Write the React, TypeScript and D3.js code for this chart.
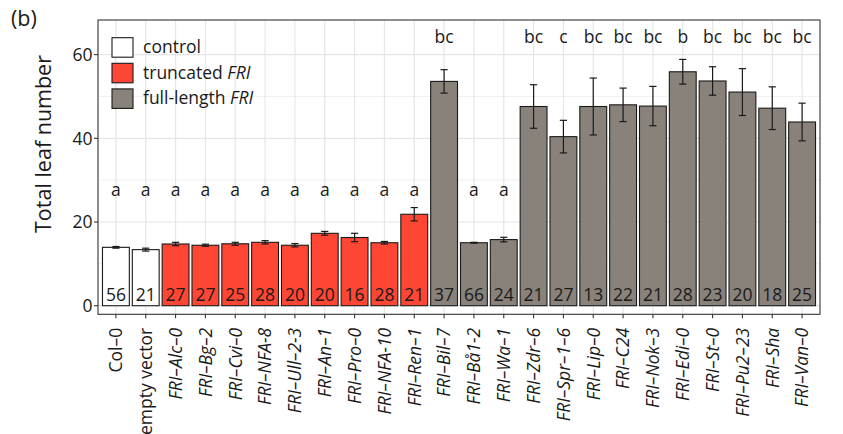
import React from "react";
import * as d3 from "d3";

// Genotypes along the x axis
const genotypes = [
  "Col–0", "empty vector", "FRI–Alc–0", "FRI–Bg–2", "FRI–Cvi–0", "FRI–NFA-8",
  "FRI–Ull–2-3", "FRI–An–1", "FRI–Pro–0", "FRI–NFA-10", "FRI–Ren–1", "FRI–Bil–7",
  "FRI–Bå1-2", "FRI–Wa–1", "FRI–Zdr–6", "FRI–Spr–1–6", "FRI–Lip–0", "FRI–C24",
  "FRI–Nok–3", "FRI–Edi–0", "FRI–St–0", "FRI–Pu2–23", "FRI–Sha", "FRI–Van–0",
];
// Group of each genotype
const groups = [
  "control", "control", "truncated", "truncated", "truncated", "truncated",
  "truncated", "truncated", "truncated", "truncated", "truncated", "full",
  "full", "full", "full", "full", "full", "full",
  "full", "full", "full", "full", "full", "full",
];
// Mean total leaf number
const meanLeaves = [
  13.95, 13.4, 14.75, 14.45, 14.8, 15.15,
  14.45, 17.3, 16.3, 15.05, 21.85, 53.6,
  15.05, 15.8, 47.6, 40.4, 47.6, 48.0,
  47.7, 55.9, 53.7, 51.05, 47.2, 43.9,
];
// Error (± half-width)
const errLeaves = [
  0.2, 0.35, 0.4, 0.25, 0.35, 0.4,
  0.4, 0.45, 1.0, 0.3, 1.6, 2.8,
  0.1, 0.55, 5.2, 3.9, 6.8, 4.0,
  4.7, 2.95, 3.4, 5.6, 5.1, 4.5,
];
// Number of plants
const sampleSizes = [
  56, 21, 27, 27, 25, 28, 20, 20, 16, 28, 21, 37,
  66, 24, 21, 27, 13, 22, 21, 28, 23, 20, 18, 25,
];
// Significance letters
const sigLetters = [
  "a", "a", "a", "a", "a", "a", "a", "a", "a", "a", "a", "bc",
  "a", "a", "bc", "c", "bc", "bc", "bc", "b", "bc", "bc", "bc", "bc",
];
const yTicks = [0, 20, 40, 60];
const yMinorTicks = [10, 30, 50];

const legendItems = [
  { key: "control", label: "control", italic: "" },
  { key: "truncated", label: "truncated ", italic: "FRI" },
  { key: "full", label: "full-length ", italic: "FRI" },
];

const fillColors: Record<string, string> = {
  control: "#FFFFFF",
  truncated: "#FE4634",
  full: "#88827B",
};

const FONT = "'Open Sans', Lato, sans-serif";
const W = 843;
const H = 434;
const panel = { left: 98, right: 820, top: 20, bottom: 314.3 };
const SMALL = 17.5;

export default function App() {
  const x = d3
    .scaleBand<string>()
    .domain(genotypes)
    .range([panel.left, panel.right])
    .paddingInner(0.1)
    .paddingOuter(0.15);
  const y = d3.scaleLinear().domain([-2.05, 68.27]).range([panel.bottom, panel.top]);
  const bw = x.bandwidth();
  const cx = (g: string) => (x(g) as number) + bw / 2;
  const capHalf = 3.6;

  const letterValue = (l: string) => (l === "a" ? 26.3 : 62.7);

  return (
    <svg
      width={W}
      height={H}
      style={{ position: "absolute", left: 0, top: 0, background: "#fff" }}
      fontFamily={FONT}
    >
      <rect x={0} y={0} width={W} height={H} fill="#fff" />
      <text x={11} y={26} fontSize={21.5} fill="#1a1a1a">(b)</text>

      {/* grid */}
      <g>
        {yMinorTicks.map((t) => (
          <line key={"mn" + t} x1={panel.left} x2={panel.right} y1={y(t)} y2={y(t)} stroke="#EDEDED" strokeWidth={0.8} />
        ))}
        {yTicks.map((t) => (
          <line key={"mj" + t} x1={panel.left} x2={panel.right} y1={y(t)} y2={y(t)} stroke="#E6E6E6" strokeWidth={1.2} />
        ))}
        {genotypes.map((g) => (
          <line key={"vg" + g} x1={cx(g)} x2={cx(g)} y1={panel.top} y2={panel.bottom} stroke="#E6E6E6" strokeWidth={1.2} />
        ))}
      </g>

      {/* bars */}
      <g>
        {genotypes.map((g, i) => (
          <rect
            key={"b" + g}
            x={x(g)}
            y={y(meanLeaves[i])}
            width={bw}
            height={y(0) - y(meanLeaves[i])}
            fill={fillColors[groups[i]]}
            stroke="#1a1a1a"
            strokeWidth={1.1}
          />
        ))}
      </g>

      {/* error bars */}
      <g stroke="#1a1a1a" strokeWidth={1.2}>
        {genotypes.map((g, i) => {
          const lo = y(meanLeaves[i] - errLeaves[i]);
          const hi = y(meanLeaves[i] + errLeaves[i]);
          const c = cx(g);
          return (
            <g key={"e" + g}>
              <line x1={c} x2={c} y1={lo} y2={hi} />
              <line x1={c - capHalf} x2={c + capHalf} y1={lo} y2={lo} />
              <line x1={c - capHalf} x2={c + capHalf} y1={hi} y2={hi} />
            </g>
          );
        })}
      </g>

      {/* sample sizes */}
      <g fontSize={SMALL} fill="#1a1a1a" textAnchor="middle">
        {genotypes.map((g, i) => (
          <text key={"n" + g} x={cx(g)} y={y(0) - 4.6}>{sampleSizes[i]}</text>
        ))}
      </g>

      {/* significance letters */}
      <g fontSize={SMALL} fill="#1a1a1a" textAnchor="middle">
        {genotypes.map((g, i) => (
          <text key={"l" + g} x={cx(g)} y={y(letterValue(sigLetters[i]))}>{sigLetters[i]}</text>
        ))}
      </g>

      {/* panel border */}
      <rect
        x={panel.left}
        y={panel.top}
        width={panel.right - panel.left}
        height={panel.bottom - panel.top}
        fill="none"
        stroke="#333333"
        strokeWidth={1.1}
      />

      {/* y axis */}
      <g>
        {yTicks.map((t) => (
          <g key={"yt" + t}>
            <line x1={panel.left - 4} x2={panel.left} y1={y(t)} y2={y(t)} stroke="#333" strokeWidth={1.1} />
            <text x={panel.left - 5.5} y={y(t)} dy="0.36em" textAnchor="end" fontSize={SMALL} fill="#1a1a1a">{t}</text>
          </g>
        ))}
        <text
          transform={`translate(${51},${144}) rotate(-90)`}
          textAnchor="middle"
          fontSize={21.5}
          fill="#1a1a1a"
        >
          Total leaf number
        </text>
      </g>

      {/* x axis */}
      <g>
        {genotypes.map((g) => {
          const c = cx(g);
          const isFri = g.startsWith("FRI");
          return (
            <g key={"xt" + g}>
              <line x1={c} x2={c} y1={panel.bottom} y2={panel.bottom + 4} stroke="#333" strokeWidth={1.1} />
              <text
                transform={`translate(${c},${panel.bottom + 13.5}) rotate(-90)`}
                textAnchor="end"
                dy="0.36em"
                fontSize={SMALL}
                fill="#1a1a1a"
                fontStyle={isFri ? "italic" : "normal"}
              >
                {g}
              </text>
            </g>
          );
        })}
      </g>

      {/* legend */}
      <g>
        {legendItems.map((it, i) => {
          const top = 37.7 + i * 25.6;
          return (
            <g key={"lg" + it.key}>
              <rect x={112} y={top} width={21} height={19.5} fill={fillColors[it.key]} stroke="#1a1a1a" strokeWidth={1.1} />
              <text x={143} y={top + 15.5} fontSize={SMALL} fill="#1a1a1a">
                {it.label}
                {it.italic && <tspan fontStyle="italic">{it.italic}</tspan>}
              </text>
            </g>
          );
        })}
      </g>
    </svg>
  );
}
